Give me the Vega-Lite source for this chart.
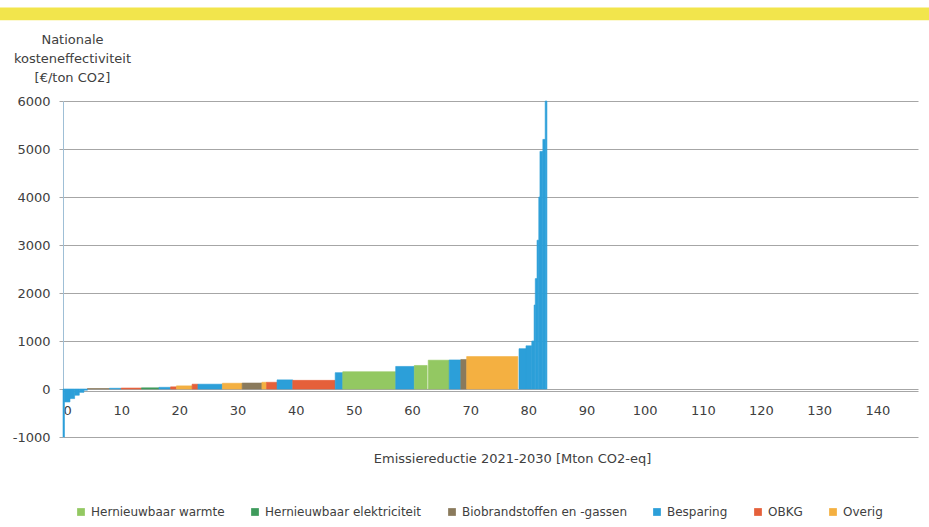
{
  "$schema": "https://vega.github.io/schema/vega-lite/v6.json",
  "width": 855,
  "height": 336,
  "autosize": {"type": "none"},
  "padding": {"left": 63, "top": 101, "right": 11, "bottom": 90},
  "background": "white",
  "config": {"font": "DejaVu Sans", "view": {"stroke": null}},
  "layer": [
    {
      "data": {"values": [{}]},
      "mark": {"type": "rect", "clip": false, "color": "#f2e54c"},
      "encoding": {
        "x": {"datum": -11, "type": "quantitative"},
        "x2": {"datum": 149},
        "y": {"datum": 7950, "type": "quantitative"},
        "y2": {"datum": 7680}
      }
    },
    {
      "data": {
        "values": [
          {"x0": 0, "x1": 0.25, "cost": -1000, "cat": "Besparing"},
          {"x0": 0.25, "x1": 1.2, "cost": -270, "cat": "Besparing"},
          {"x0": 1.2, "x1": 2.0, "cost": -200, "cat": "Besparing"},
          {"x0": 2.0, "x1": 2.8, "cost": -130, "cat": "Besparing"},
          {"x0": 2.8, "x1": 3.6, "cost": -70, "cat": "Besparing"},
          {"x0": 3.6, "x1": 4.2, "cost": -25, "cat": "Besparing"},
          {"x0": 4.2, "x1": 8.0, "cost": 10, "cat": "Biobrandstoffen en -gassen"},
          {"x0": 8.0, "x1": 10.0, "cost": 15, "cat": "Besparing"},
          {"x0": 10.0, "x1": 13.5, "cost": 20, "cat": "OBKG"},
          {"x0": 13.5, "x1": 16.5, "cost": 25, "cat": "Hernieuwbaar elektriciteit"},
          {"x0": 16.5, "x1": 18.5, "cost": 35, "cat": "Besparing"},
          {"x0": 18.5, "x1": 19.5, "cost": 45, "cat": "OBKG"},
          {"x0": 19.5, "x1": 22.2, "cost": 65, "cat": "Overig"},
          {"x0": 22.2, "x1": 23.2, "cost": 100, "cat": "OBKG"},
          {"x0": 23.2, "x1": 27.4, "cost": 100, "cat": "Besparing"},
          {"x0": 27.4, "x1": 30.8, "cost": 120, "cat": "Overig"},
          {"x0": 30.8, "x1": 34.2, "cost": 125, "cat": "Biobrandstoffen en -gassen"},
          {"x0": 34.2, "x1": 35.0, "cost": 140, "cat": "Overig"},
          {"x0": 35.0, "x1": 36.8, "cost": 140, "cat": "OBKG"},
          {"x0": 36.8, "x1": 39.5, "cost": 190, "cat": "Besparing"},
          {"x0": 39.5, "x1": 46.8, "cost": 180, "cat": "OBKG"},
          {"x0": 46.8, "x1": 48.1, "cost": 340, "cat": "Besparing"},
          {"x0": 48.1, "x1": 57.2, "cost": 360, "cat": "Hernieuwbaar warmte"},
          {"x0": 57.2, "x1": 60.4, "cost": 470, "cat": "Besparing"},
          {"x0": 60.4, "x1": 62.6, "cost": 490, "cat": "Hernieuwbaar warmte"},
          {"x0": 62.8, "x1": 66.4, "cost": 600, "cat": "Hernieuwbaar warmte"},
          {"x0": 66.4, "x1": 68.4, "cost": 605, "cat": "Besparing"},
          {"x0": 68.4, "x1": 69.4, "cost": 615, "cat": "Biobrandstoffen en -gassen"},
          {"x0": 69.4, "x1": 78.2, "cost": 675, "cat": "Overig"},
          {"x0": 78.4, "x1": 79.6, "cost": 840, "cat": "Besparing"},
          {"x0": 79.6, "x1": 80.6, "cost": 900, "cat": "Besparing"},
          {"x0": 80.6, "x1": 81.0, "cost": 1000, "cat": "Besparing"},
          {"x0": 81.0, "x1": 81.2, "cost": 1750, "cat": "Besparing"},
          {"x0": 81.2, "x1": 81.5, "cost": 2300, "cat": "Besparing"},
          {"x0": 81.5, "x1": 81.8, "cost": 3100, "cat": "Besparing"},
          {"x0": 81.8, "x1": 82.0, "cost": 4000, "cat": "Besparing"},
          {"x0": 82.0, "x1": 82.5, "cost": 4950, "cat": "Besparing"},
          {"x0": 82.5, "x1": 82.9, "cost": 5200, "cat": "Besparing"},
          {"x0": 82.9, "x1": 83.2, "cost": 6000, "cat": "Besparing"}
        ]
      },
      "mark": {"type": "rect", "strokeWidth": 0.6},
      "encoding": {
        "x": {
          "field": "x0",
          "type": "quantitative",
          "scale": {"domain": [0, 147], "nice": false, "zero": false},
          "axis": {
            "values": [0, 10, 20, 30, 40, 50, 60, 70, 80, 90, 100, 110, 120, 130, 140],
            "offset": -46,
            "grid": false,
            "ticks": false,
            "domainColor": "#a6a6a6",
            "labelFontSize": 13,
            "labelColor": "#404040",
            "labelPadding": 13,
            "title": "Emissiereductie 2021-2030 [Mton CO2-eq]",
            "titleX": 449,
            "titleY": 67,
            "titleAlign": "center",
            "titleBaseline": "middle",
            "titleFontSize": 13,
            "titleFontWeight": "normal",
            "titleColor": "#404040"
          }
        },
        "x2": {"field": "x1"},
        "y": {
          "field": "cost",
          "type": "quantitative",
          "scale": {"domain": [-1000, 6000], "nice": false, "zero": false},
          "axis": {
            "values": [-1000, 0, 1000, 2000, 3000, 4000, 5000, 6000],
            "labelExpr": "'' + datum.value",
            "grid": true,
            "gridColor": "#a6a6a6",
            "gridWidth": 1,
            "domainColor": "#9fbfd6",
            "tickColor": "#a6a6a6",
            "tickSize": 4,
            "labelFontSize": 13,
            "labelColor": "#404040",
            "labelPadding": 9,
            "title": ["Nationale", "kosteneffectiviteit", "[€/ton CO2]"],
            "titleAngle": 0,
            "titleX": 9,
            "titleY": -68,
            "titleAlign": "center",
            "titleBaseline": "top",
            "titleFontSize": 13,
            "titleFontWeight": "normal",
            "titleColor": "#404040",
            "titleLineHeight": 19
          }
        },
        "y2": {"datum": 0},
        "color": {
          "field": "cat",
          "type": "nominal",
          "scale": {
            "domain": ["Hernieuwbaar warmte", "Hernieuwbaar elektriciteit", "Biobrandstoffen en -gassen", "Besparing", "OBKG", "Overig"],
            "range": ["#93c862", "#3f9b5c", "#8a7a5c", "#2c9fd9", "#e5603a", "#f4b041"]
          },
          "legend": {
            "title": null,
            "orient": "none",
            "direction": "horizontal",
            "legendX": 12,
            "legendY": 405,
            "symbolType": "square",
            "symbolSize": 60,
            "symbolStrokeWidth": 0,
            "labelFontSize": 12,
            "labelLimit": 0,
            "labelColor": "#404040",
            "columnPadding": 24,
            "labelOffset": 4
          }
        },
        "stroke": {
          "field": "cat",
          "type": "nominal",
          "scale": {
            "domain": ["Hernieuwbaar warmte", "Hernieuwbaar elektriciteit", "Biobrandstoffen en -gassen", "Besparing", "OBKG", "Overig"],
            "range": ["#93c862", "#3f9b5c", "#8a7a5c", "#2c9fd9", "#e5603a", "#f4b041"]
          },
          "legend": null
        }
      }
    }
  ]
}
